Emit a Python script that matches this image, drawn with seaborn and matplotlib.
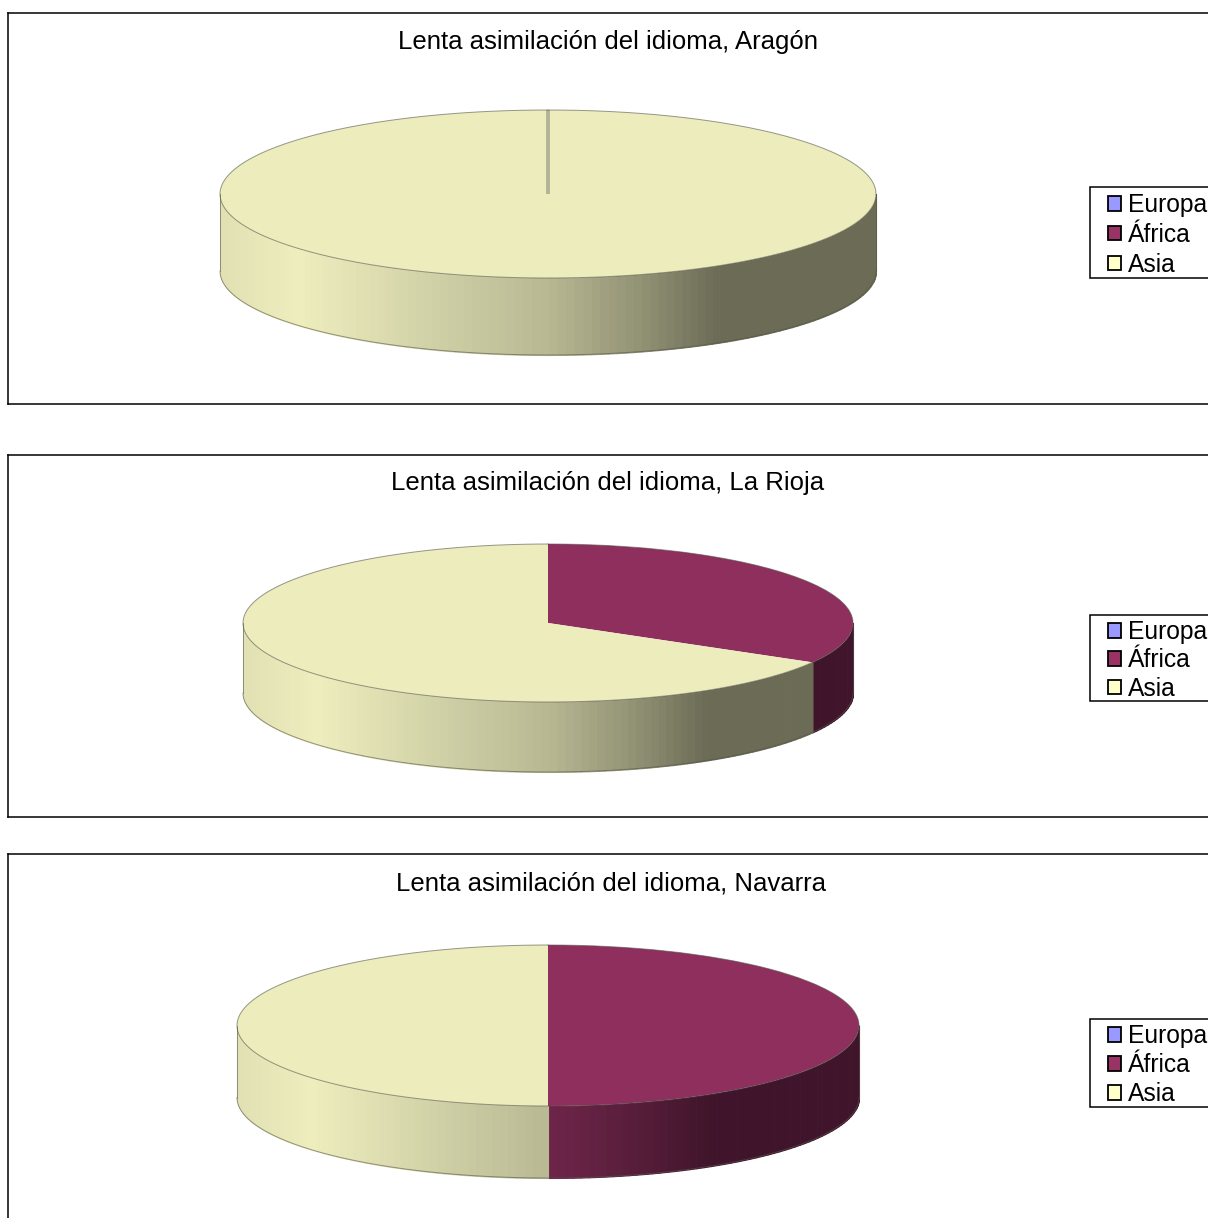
import numpy as np
import matplotlib
matplotlib.use("Agg")
import matplotlib.pyplot as plt
from matplotlib.patches import Patch, Rectangle
import seaborn as sns

# datos, % de cada continente
continentes = ["Europa", "África", "Asia"]
titulos = ["Lenta asimilación del idioma, Aragón",
           "Lenta asimilación del idioma, La Rioja",
           "Lenta asimilación del idioma, Navarra"]
europa = [0, 0, 0]
africa = [0, 33.3, 50]
asia = [100, 66.7, 50]

colores = sns.color_palette(["#9999ff", "#993366", "#ffffcc"])

# posiciones en pixeles de cada panel
W, H = 1208, 1218
marcos = [(13, 404), (455, 817), (854, 1300)]
centros = [(548, 194), (548, 623), (548, 1025.5)]
radios = [(328, 84), (305, 79), (311, 80.5)]
alturas = [77, 70, 72]
pos_titulo = [(608.5, 42), (607.5, 483), (611, 883)]
# caja de la leyenda: arriba, abajo, inicio de filas, separacion
pos_leyenda = [(187, 278, 193, 0.24), (615, 701, 620, 0.18), (1019, 1107, 1024, 0.21)]

sns.set_theme(style="white")
plt.rcParams["font.family"] = ["Liberation Sans", "DejaVu Sans"]
plt.rcParams["text.color"] = "black"

CARA = 0.925
XP = [-1.0, -0.76, 0.0, 0.28, 0.52, 1.0]
YP = [0.88, 0.93, 0.72, 0.57, 0.42, 0.42]


def sombra(x):
    return np.interp(x, XP, YP)


def pastel_3d(ax, valores, prof):
    caras = [tuple(np.array(c) * CARA) for c in colores]
    wedges, _ = ax.pie(valores, colors=caras, startangle=90, counterclock=False)
    ax.set_aspect("auto")
    for w, v in zip(wedges, valores):
        w.set_zorder(3)
        w.set_linewidth(0)
        if v == 0:
            # porcion vacia: queda como una raya sobre el resto
            w.set_edgecolor("#b3b396")
            w.set_linewidth(2.6)
            w.set_zorder(4 if max(valores) == 100 else 1)

    # pared lateral, franjas con degradado
    ini = 0.0
    for v, c in zip(valores, colores):
        fin = ini + v / sum(valores) * 360
        a, b = max(ini, 90), min(fin, 270)
        if b > a:
            angs = np.radians(np.linspace(a, b, max(2, int((b - a) / 1.5) + 1)))
            for t0, t1 in zip(angs[:-1], angs[1:]):
                xs = np.sin([t0, t1])
                ys = np.cos([t0, t1])
                tono = tuple(np.array(c) * sombra(xs.mean()))
                ax.fill_between(xs, ys, ys - prof, color=tono, lw=0.8, zorder=2)
        ini = fin

    t = np.linspace(0, 2 * np.pi, 400)
    ax.plot(np.sin(t), np.cos(t), color="#55554a", lw=0.7, alpha=0.6, zorder=5)
    t = np.linspace(np.pi / 2, 3 * np.pi / 2, 200)
    ax.plot(np.sin(t), np.cos(t) - prof, color="#55554a", lw=0.7, alpha=0.6, zorder=5)
    for lado in (-1, 1):
        ax.plot([lado, lado], [0, -prof], color="#55554a", lw=0.7, alpha=0.6, zorder=5)


fig = plt.figure(figsize=(W / 100, H / 100), dpi=100, facecolor="white")
tam_titulo = 18.5
tam_leyenda = 17.7

for i in range(3):
    arriba, abajo = marcos[i]
    cx, cy = centros[i]
    rx, ry = radios[i]
    ax = fig.add_axes([8 / W, 1 - abajo / H, 1300 / W, (abajo - arriba) / H])
    pastel_3d(ax, [europa[i], africa[i], asia[i]], alturas[i] / ry)
    ax.set_xlim((8 - cx) / rx, (1308 - cx) / rx)
    ax.set_ylim((cy - abajo) / ry, (cy - arriba) / ry)
    ax.set_frame_on(True)
    for s in ax.spines.values():
        s.set_visible(True)
        s.set_color("black")
        s.set_linewidth(1.1)

    tx, ty = pos_titulo[i]
    fig.text(tx / W, 1 - ty / H, titulos[i], ha="center", va="center",
             fontsize=tam_titulo, color="black")

    sup, inf, fila, esp = pos_leyenda[i]
    ax.add_patch(Rectangle((1090 / W, 1 - inf / H), 200 / W, (inf - sup) / H,
                           transform=fig.transFigure, facecolor="white",
                           edgecolor="black", linewidth=1.1, zorder=6, clip_on=False))
    handles = [Patch(facecolor=c, edgecolor="black", linewidth=1.3, label=n)
               for c, n in zip(colores, continentes)]
    leg = ax.legend(handles=handles, loc="upper left",
                    bbox_to_anchor=(1108 / W, 1 - fila / H),
                    bbox_transform=fig.transFigure, borderaxespad=0,
                    fontsize=tam_leyenda, frameon=False, handlelength=0.53,
                    handleheight=0.53, handletextpad=0.29, borderpad=0,
                    labelspacing=esp)
    leg.set_zorder(7)

fig.savefig("out.png", dpi=100)
